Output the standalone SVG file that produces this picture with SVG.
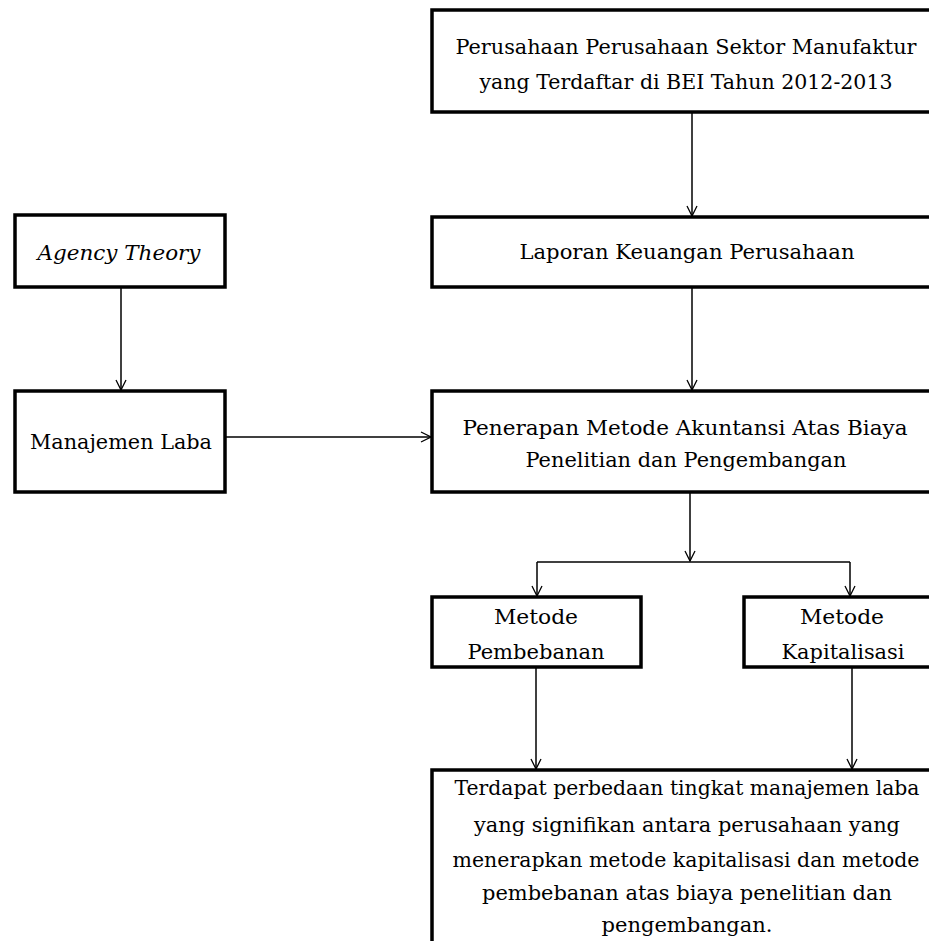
<svg xmlns="http://www.w3.org/2000/svg" width="929" height="941" viewBox="0 0 929 941">
<defs>
<marker id="arr" viewBox="0 0 12 12" refX="11" refY="6" markerWidth="12" markerHeight="12" markerUnits="userSpaceOnUse" orient="auto">
<path d="M1,1 L11,6 L1,11" fill="none" stroke="#000" stroke-width="1.3"/>
</marker>
<style>
.box{fill:#fff;stroke:#000;stroke-width:3.5}
.t{font-family:"DejaVu Serif","Liberation Serif",serif;font-size:20px;fill:#000;text-anchor:middle}
.c{fill:none;stroke:#000;stroke-width:1.5}
</style>
</defs>
<rect width="929" height="941" fill="#fff"/>
<g id="connectors">
<line class="c" x1="692" y1="113" x2="692" y2="216" marker-end="url(#arr)"/>
<line class="c" x1="692" y1="288" x2="692" y2="390" marker-end="url(#arr)"/>
<line class="c" x1="121" y1="288" x2="121" y2="390" marker-end="url(#arr)"/>
<line class="c" x1="226" y1="437" x2="431" y2="437" marker-end="url(#arr)"/>
<line class="c" x1="690" y1="493" x2="690" y2="561" marker-end="url(#arr)"/>
<polyline class="c" points="537,562 850,562"/>
<line class="c" x1="537" y1="562" x2="537" y2="596" marker-end="url(#arr)"/>
<line class="c" x1="850" y1="562" x2="850" y2="596" marker-end="url(#arr)"/>
<line class="c" x1="536" y1="668" x2="536" y2="769" marker-end="url(#arr)"/>
<line class="c" x1="852" y1="668" x2="852" y2="769" marker-end="url(#arr)"/>
</g>
<g id="n_top">
<rect class="box" x="432" y="10" width="520" height="102"/>
<text class="t" x="686" y="54" textLength="461" lengthAdjust="spacingAndGlyphs">Perusahaan Perusahaan Sektor Manufaktur</text>
<text class="t" x="686" y="89" textLength="413" lengthAdjust="spacingAndGlyphs">yang Terdaftar di BEI Tahun 2012-2013</text>
</g>
<g id="n_laporan">
<rect class="box" x="432" y="217" width="520" height="70"/>
<text class="t" x="687" y="259" textLength="335" lengthAdjust="spacingAndGlyphs">Laporan Keuangan Perusahaan</text>
</g>
<g id="n_agency">
<rect class="box" x="15" y="215" width="210" height="72"/>
<text class="t" x="119" y="260" font-style="italic" textLength="163" lengthAdjust="spacingAndGlyphs">Agency Theory</text>
</g>
<g id="n_manajemen">
<rect class="box" x="15" y="391" width="210" height="101"/>
<text class="t" x="121" y="449" textLength="182" lengthAdjust="spacingAndGlyphs">Manajemen Laba</text>
</g>
<g id="n_penerapan">
<rect class="box" x="432" y="391" width="520" height="101"/>
<text class="t" x="685" y="435" textLength="445" lengthAdjust="spacingAndGlyphs">Penerapan Metode Akuntansi Atas Biaya</text>
<text class="t" x="686" y="467" textLength="321" lengthAdjust="spacingAndGlyphs">Penelitian dan Pengembangan</text>
</g>
<g id="n_pembebanan">
<rect class="box" x="432" y="597" width="209" height="70"/>
<text class="t" x="536" y="624" textLength="84" lengthAdjust="spacingAndGlyphs">Metode</text>
<text class="t" x="536" y="659" textLength="137" lengthAdjust="spacingAndGlyphs">Pembebanan</text>
</g>
<g id="n_kapitalisasi">
<rect class="box" x="744" y="597" width="200" height="70"/>
<text class="t" x="842" y="624" textLength="84" lengthAdjust="spacingAndGlyphs">Metode</text>
<text class="t" x="843" y="659" textLength="123" lengthAdjust="spacingAndGlyphs">Kapitalisasi</text>
</g>
<g id="n_hasil">
<rect class="box" x="432" y="770" width="520" height="190"/>
<text class="t" x="687" y="795" textLength="465" lengthAdjust="spacingAndGlyphs">Terdapat perbedaan tingkat manajemen laba</text>
<text class="t" x="687" y="832" textLength="426" lengthAdjust="spacingAndGlyphs">yang signifikan antara perusahaan yang</text>
<text class="t" x="686" y="867" textLength="467" lengthAdjust="spacingAndGlyphs">menerapkan metode kapitalisasi dan metode</text>
<text class="t" x="687" y="900" textLength="410" lengthAdjust="spacingAndGlyphs">pembebanan atas biaya penelitian dan</text>
<text class="t" x="687" y="932" textLength="171" lengthAdjust="spacingAndGlyphs">pengembangan.</text>
</g>
</svg>
